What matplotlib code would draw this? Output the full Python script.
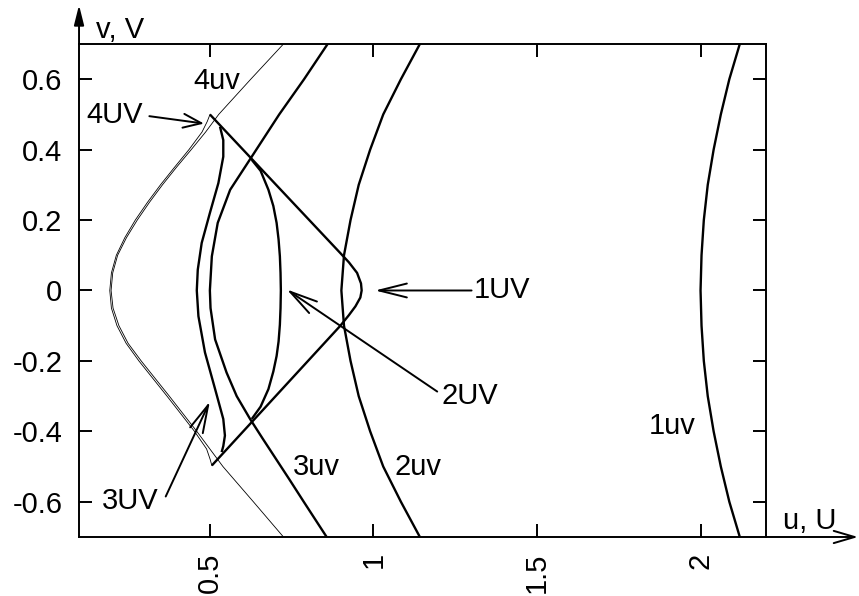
import matplotlib.pyplot as plt

plt.rcParams['font.family'] = ['Liberation Sans', 'DejaVu Sans']
plt.rcParams['font.size'] = 21

# open trajectories (u, v)
v_1uv = [-0.7, -0.6, -0.5, -0.4, -0.3, -0.2, -0.1, 0.0, 0.1, 0.2, 0.3, 0.4, 0.5, 0.6, 0.7]
u_1uv = [2.12, 2.088, 2.062, 2.04, 2.022, 2.01, 2.003, 2.0, 2.003, 2.01, 2.022, 2.04, 2.062, 2.088, 2.12]

v_2uv = [-0.7, -0.6, -0.5, -0.4, -0.3, -0.2, -0.1, 0.0, 0.1, 0.2, 0.3, 0.4, 0.5, 0.6, 0.7]
u_2uv = [1.142, 1.084, 1.03, 0.99, 0.955, 0.93, 0.91, 0.902, 0.91, 0.93, 0.955, 0.99, 1.03, 1.084, 1.142]

v_3uv = [-0.7, -0.6, -0.535, -0.42, -0.365, -0.3, -0.233, -0.139, -0.05, 0.0,
         0.097, 0.192, 0.286, 0.38, 0.5, 0.6, 0.7]
u_3uv = [0.857, 0.787, 0.742, 0.661, 0.623, 0.582, 0.551, 0.516, 0.502, 0.5,
         0.506, 0.524, 0.562, 0.628, 0.712, 0.788, 0.86]

v_4uv = [-0.7, -0.6, -0.5, -0.45, -0.4, -0.35, -0.3, -0.25, -0.2, -0.15, -0.1, -0.05, 0.0,
         0.05, 0.1, 0.15, 0.2, 0.25, 0.3, 0.35, 0.4, 0.45, 0.5, 0.6, 0.7]
u_4uv = [0.725, 0.633, 0.54, 0.5, 0.46, 0.418, 0.376, 0.333, 0.29, 0.25, 0.222, 0.204, 0.198,
         0.203, 0.218, 0.245, 0.278, 0.315, 0.355, 0.398, 0.443, 0.487, 0.527, 0.625, 0.725]

# closed cycles
v_1UV = [0.5, 0.107, 0.08, 0.05, 0.02, 0.0, -0.02, -0.045, -0.07, -0.101, -0.497]
u_1UV = [0.5, 0.898, 0.925, 0.95, 0.962, 0.964, 0.96, 0.945, 0.925, 0.898, 0.506]

v_2UV = [0.371, 0.34, 0.286, 0.24, 0.192, 0.145, 0.097, 0.05, 0.0, -0.05, -0.097, -0.145, -0.186, -0.23, -0.28, -0.33, -0.365]
u_2UV = [0.628, 0.655, 0.679, 0.694, 0.704, 0.71, 0.714, 0.716, 0.717, 0.716, 0.714, 0.71, 0.704, 0.694, 0.679, 0.655, 0.628]

v_3UV = [0.465, 0.427, 0.38, 0.305, 0.22, 0.135, 0.059, 0.0, -0.073, -0.176, -0.28, -0.365, -0.412, -0.442, -0.459]
u_3UV = [0.531, 0.541, 0.541, 0.526, 0.5, 0.475, 0.463, 0.46, 0.465, 0.485, 0.516, 0.541, 0.546, 0.541, 0.536]

v_4UV = [0.499, 0.48, 0.45, 0.4, 0.35, 0.3, 0.25, 0.2, 0.15, 0.1, 0.05, 0.0,
         -0.05, -0.1, -0.15, -0.2, -0.25, -0.3, -0.35, -0.4, -0.45, -0.48, -0.497]
u_4UV = [0.5, 0.492, 0.476, 0.436, 0.392, 0.349, 0.309, 0.272, 0.24, 0.214, 0.199, 0.194,
         0.199, 0.216, 0.244, 0.283, 0.326, 0.369, 0.411, 0.453, 0.49, 0.501, 0.506]

x_ticks = [0.5, 1, 1.5, 2]
x_labels = ['0.5', '1', '1.5', '2']
y_ticks = [-0.6, -0.4, -0.2, 0, 0.2, 0.4, 0.6]
y_labels = ['-0.6', '-0.4', '-0.2', '0', '0.2', '0.4', '0.6']

fig = plt.figure(figsize=(8.59, 5.96), dpi=100)
ax = fig.add_axes([0.092, 0.099, 0.7997, 0.8272])

thick = dict(color='black', lw=1.7, solid_joinstyle='round', solid_capstyle='butt')
thin = dict(color='black', lw=0.6)

ax.plot(u_1uv, v_1uv, **thick)
ax.plot(u_2uv, v_2uv, **thick)
ax.plot(u_3uv, v_3uv, **thick)
ax.plot(u_4uv, v_4uv, **thin)
ax.plot(u_1UV, v_1UV, **thick)
ax.plot(u_2UV, v_2UV, **thick)
ax.plot(u_3UV, v_3UV, **thick)
ax.plot(u_4UV, v_4UV, **thin)

ax.set_xlim(0.1, 2.2)
ax.set_ylim(-0.7, 0.7)
ax.set_xticks(x_ticks)
ax.set_xticklabels(x_labels, rotation=90)
ax.set_yticks(y_ticks)
ax.set_yticklabels(y_labels)
ax.tick_params(direction='in', length=9.5, width=1.4, top=True, right=True, labelsize=21)
ax.tick_params(axis='x', pad=11)
ax.tick_params(axis='y', pad=12)
for s in ax.spines.values():
    s.set_linewidth(1.4)

# curve labels
for txt, (x, y) in [('4uv', (0.522, 0.595)), ('3uv', (0.825, -0.5)),
                    ('2uv', (1.136, -0.5)), ('1uv', (1.913, -0.385))]:
    ax.text(x, y, txt, ha='center', va='center', fontsize=21)


def pointer(txt, text_xy, tip, tail, hl=1.0):
    ax.text(*text_xy, txt, ha='center', va='center', fontsize=21)
    ax.annotate('', xy=tip, xytext=tail,
                arrowprops=dict(arrowstyle='->,head_length=%g,head_width=0.25' % hl,
                                lw=1.4, color='black', shrinkA=0, shrinkB=0,
                                mutation_scale=20))


pointer('4UV', (0.21, 0.498), (0.482, 0.474), (0.315, 0.495), hl=0.65)
pointer('3UV', (0.256, -0.597), (0.5, -0.315), (0.365, -0.585))
pointer('2UV', (1.295, -0.3), (0.735, 0.003), (1.195, -0.287))
pointer('1UV', (1.393, 0.0), (1.005, 0.0), (1.3, 0.0))

# axis arrows
ax.annotate('', xy=(0, 1.079), xytext=(0, 1.0), xycoords='axes fraction',
            arrowprops=dict(arrowstyle='-|>,head_length=0.6,head_width=0.15', lw=1.4,
                            color='black', shrinkA=0, shrinkB=0, mutation_scale=20),
            annotation_clip=False)
ax.annotate('', xy=(1.134, 0), xytext=(1.0, 0), xycoords='axes fraction',
            arrowprops=dict(arrowstyle='->,head_length=0.75,head_width=0.22', lw=1.4,
                            color='black', shrinkA=0, shrinkB=0, mutation_scale=20),
            annotation_clip=False)
ax.text(0.06, 1.028, 'v, V', transform=ax.transAxes, ha='center', va='center', fontsize=21)
ax.text(1.063, 0.032, 'u, U', transform=ax.transAxes, ha='center', va='center', fontsize=21)

fig.savefig('out.png', dpi=100)
